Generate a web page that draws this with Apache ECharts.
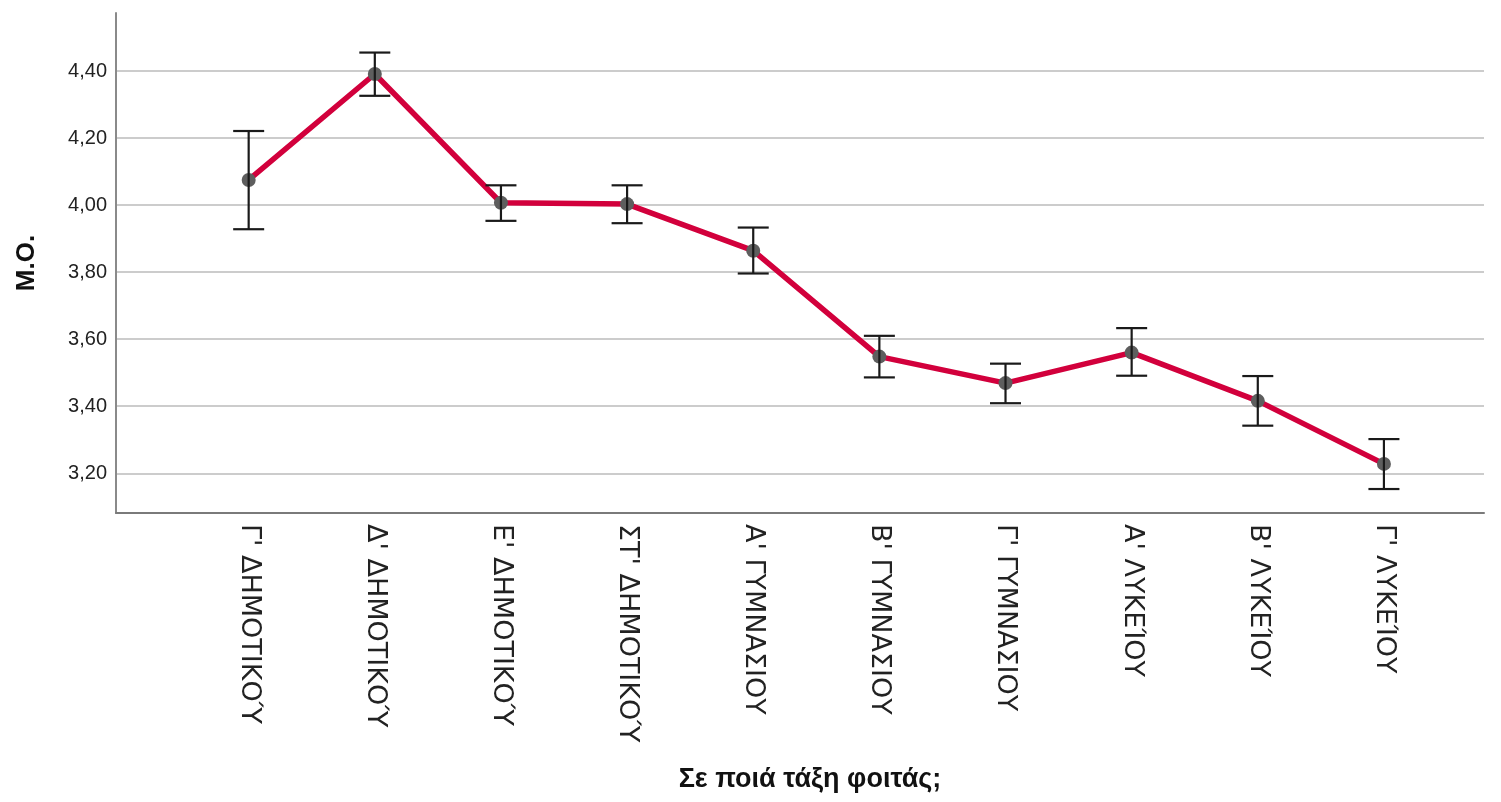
<!DOCTYPE html>
<html>
<head>
<meta charset="utf-8">
<script src="https://cdn.jsdelivr.net/npm/echarts@6/dist/echarts.min.js"></script>
<style>
html,body{margin:0;padding:0;background:#fff;}
#chart{width:1501px;height:802px;}
</style>
</head>
<body>
<div id="chart"></div>
<script>
const categories = ["Γ' ΔΗΜΟΤΙΚΟΎ", "Δ' ΔΗΜΟΤΙΚΟΎ", "Ε' ΔΗΜΟΤΙΚΟΎ", "ΣΤ' ΔΗΜΟΤΙΚΟΎ", "Α' ΓΥΜΝΑΣΙΟΥ", "Β' ΓΥΜΝΑΣΙΟΥ", "Γ' ΓΥΜΝΑΣΙΟΥ", "Α' ΛΥΚΕΊΟΥ", "Β' ΛΥΚΕΊΟΥ", "Γ' ΛΥΚΕΊΟΥ"];
const means = [4.075, 4.391, 4.007, 4.003, 3.864, 3.548, 3.469, 3.560, 3.416, 3.228];
const upper = [4.221, 4.455, 4.059, 4.059, 3.933, 3.610, 3.527, 3.633, 3.490, 3.302];
const lower = [3.928, 4.326, 3.953, 3.946, 3.796, 3.486, 3.409, 3.491, 3.342, 3.153];
const yMin = 3.0815, yMax = 4.573;
const yTitle = "M.O.";
const xTitle = "Σε ποιά τάξη φοιτάς;";

const chart = echarts.init(document.getElementById('chart'), null, {renderer: 'canvas'});
const errData = categories.map((c, i) => [i, lower[i], upper[i]]);
const gridTop = 13, gridBottom = 289;

const option = {
  backgroundColor: '#fff',
  animation: false,
  grid: [
    {left: 116, right: 17, top: gridTop, bottom: gridBottom},
    {left: 185.6, right: 54, top: gridTop, bottom: gridBottom}
  ],
  xAxis: [
    {gridIndex: 0, type: 'value', min: 0, max: 1,
     axisLine: {show: true, onZero: false, lineStyle: {color: '#7a7a7a', width: 2}},
     axisTick: {show: false}, axisLabel: {show: false}, splitLine: {show: false}},
    {gridIndex: 1, type: 'category', data: categories, boundaryGap: true,
     axisLine: {show: false}, axisTick: {show: false}, splitLine: {show: false},
     axisLabel: {rotate: -90, margin: 11, fontFamily: 'DejaVu Sans', fontSize: 27, color: '#222', interval: 0}}
  ],
  yAxis: [
    {gridIndex: 0, type: 'value', min: yMin, max: yMax, splitNumber: 7,
     axisLine: {show: true, lineStyle: {color: '#8a8a8a', width: 2}},
     axisTick: {show: false},
     axisLabel: {showMinLabel: false, showMaxLabel: false, margin: 9, fontFamily: 'Liberation Sans', fontSize: 20, color: '#222',
       formatter: v => v.toFixed(2).replace('.', ',')},
     splitLine: {show: true, lineStyle: {width: 2, color: ['rgba(0,0,0,0)', '#cccccc', '#cccccc', '#cccccc', '#cccccc', '#cccccc', '#cccccc', '#cccccc', 'rgba(0,0,0,0)']}}},
    {gridIndex: 1, type: 'value', min: yMin, max: yMax, show: false, splitLine: {show: false}}
  ],
  series: [
    {type: 'line', xAxisIndex: 1, yAxisIndex: 1, data: means,
     lineStyle: {color: '#d2003c', width: 5.5}, itemStyle: {color: '#5e5e5e'},
     symbol: 'circle', symbolSize: 14, showSymbol: true, z: 3},
    {type: 'custom', xAxisIndex: 1, yAxisIndex: 1, data: errData, z: 4,
     renderItem: function (params, api) {
       const x = api.value(0);
       const lo = api.coord([x, api.value(1)]);
       const hi = api.coord([x, api.value(2)]);
       const hw = 15.5;
       const st = {stroke: '#1a1a1a', lineWidth: 2.2};
       return {type: 'group', children: [
         {type: 'line', shape: {x1: lo[0], y1: lo[1], x2: hi[0], y2: hi[1]}, style: st},
         {type: 'line', shape: {x1: lo[0] - hw, y1: lo[1], x2: lo[0] + hw, y2: lo[1]}, style: st},
         {type: 'line', shape: {x1: hi[0] - hw, y1: hi[1], x2: hi[0] + hw, y2: hi[1]}, style: st}
       ]};
     }}
  ],
  graphic: [
    {type: 'text', x: 27, y: 263, rotation: Math.PI / 2,
     style: {text: yTitle, font: 'bold 26px "Liberation Sans"', fill: '#111', textAlign: 'center', textVerticalAlign: 'middle'}},
    {type: 'text', x: 810, y: 780,
     style: {text: xTitle, font: 'bold 27px "Liberation Sans"', fill: '#111', textAlign: 'center', textVerticalAlign: 'middle'}}
  ]
};
chart.setOption(option);
</script>
</body>
</html>
